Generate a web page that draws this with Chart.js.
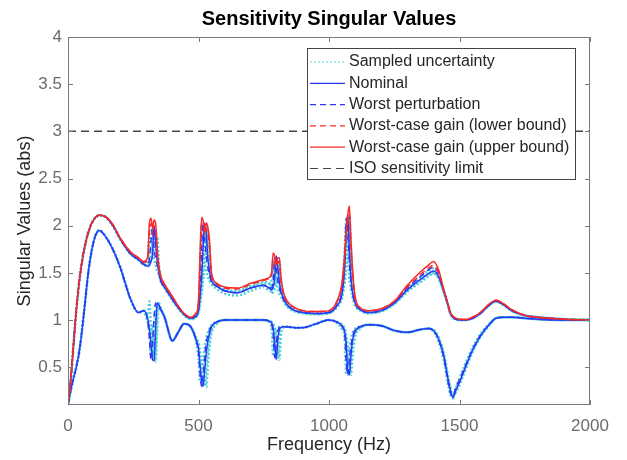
<!DOCTYPE html>
<html>
<head>
<meta charset="utf-8">
<script src="https://cdn.jsdelivr.net/npm/chart.js@4"></script>
<style>
  html, body { margin: 0; padding: 0; background: #fff; }
  #wrap { width: 627px; height: 460px; }
</style>
</head>
<body>
<div id="wrap"><canvas id="sigmaChart"></canvas></div>
<script>
// frequency grid (Hz), denser around the resonances
const freq = [
  0, 10, 20, 30, 45, 60, 80, 100, 120, 140,
  170, 200, 240, 270, 290, 305, 312, 318, 324, 330,
  336, 342, 348, 355, 370, 400, 420, 445, 470, 490,
  500, 506, 512, 518, 524, 530, 536, 542, 550, 570,
  600, 650, 700, 750, 770, 780, 786, 792, 798, 804,
  810, 816, 825, 840, 870, 900, 950, 1000, 1030, 1050,
  1060, 1066, 1072, 1078, 1084, 1090, 1100, 1120, 1150, 1200,
  1250, 1300, 1350, 1380, 1400, 1420, 1440, 1455, 1465, 1475,
  1485, 1500, 1520, 1550, 1580, 1610, 1640, 1670, 1700, 1750,
  1800, 1900, 2000
];

const upperBound = [
  0.10, 0.35, 0.70, 1.05, 1.45, 1.72, 1.95, 2.07, 2.11, 2.10,
  2.02, 1.87, 1.72, 1.66, 1.62, 1.66, 2.03, 2.08, 1.98, 2.06,
  2.02, 1.75, 1.58, 1.47, 1.38, 1.25, 1.16, 1.07, 1.03, 1.07,
  1.20, 1.70, 2.09, 2.05, 1.95, 2.03, 1.98, 1.85, 1.50, 1.39,
  1.35, 1.34, 1.39, 1.43, 1.45, 1.50, 1.71, 1.68, 1.60, 1.66,
  1.66, 1.45, 1.30, 1.20, 1.13, 1.10, 1.09, 1.10, 1.20, 1.40,
  1.70, 1.95, 2.12, 2.21, 1.85, 1.55, 1.25, 1.13, 1.10, 1.12,
  1.20, 1.37, 1.51, 1.58, 1.62, 1.53, 1.32, 1.18, 1.08, 1.04,
  1.02, 1.01, 1.005, 1.03, 1.08, 1.16, 1.21, 1.17, 1.11, 1.05,
  1.03, 1.01, 1.00
];

const lowerBound = [
  0.10, 0.35, 0.70, 1.05, 1.45, 1.72, 1.95, 2.07, 2.11, 2.10,
  2.02, 1.87, 1.72, 1.66, 1.61, 1.64, 1.95, 2.02, 1.90, 2.00,
  1.96, 1.70, 1.55, 1.46, 1.37, 1.25, 1.16, 1.07, 1.03, 1.07,
  1.18, 1.62, 2.02, 1.98, 1.90, 1.97, 1.92, 1.78, 1.47, 1.38,
  1.34, 1.33, 1.38, 1.42, 1.44, 1.48, 1.65, 1.63, 1.56, 1.62,
  1.60, 1.42, 1.28, 1.19, 1.13, 1.10, 1.09, 1.10, 1.19, 1.37,
  1.62, 1.88, 2.05, 2.12, 1.78, 1.50, 1.22, 1.13, 1.10, 1.12,
  1.20, 1.35, 1.48, 1.55, 1.58, 1.50, 1.31, 1.18, 1.08, 1.04,
  1.02, 1.01, 1.005, 1.03, 1.08, 1.16, 1.21, 1.17, 1.11, 1.05,
  1.03, 1.01, 1.00
];

const nominalHi = [
  0.10, 0.35, 0.70, 1.05, 1.45, 1.72, 1.95, 2.07, 2.11, 2.10,
  2.01, 1.86, 1.70, 1.64, 1.59, 1.57, 1.58, 1.62, 1.70, 2.00,
  1.80, 1.62, 1.52, 1.42, 1.35, 1.22, 1.14, 1.06, 1.02, 1.04,
  1.10, 1.25, 1.45, 1.80, 2.03, 1.90, 1.65, 1.52, 1.42, 1.36,
  1.31, 1.29, 1.34, 1.37, 1.34, 1.32, 1.35, 1.45, 1.68, 1.55,
  1.40, 1.30, 1.24, 1.16, 1.10, 1.08, 1.07, 1.08, 1.15, 1.28,
  1.55, 1.95, 2.12, 1.75, 1.45, 1.30, 1.18, 1.11, 1.08, 1.10,
  1.18, 1.32, 1.43, 1.49, 1.52, 1.46, 1.30, 1.17, 1.07, 1.03,
  1.01, 1.00, 1.00, 1.02, 1.07, 1.15, 1.20, 1.16, 1.10, 1.05,
  1.03, 1.01, 1.00
];

const nominalLo = [
  0.10, 0.25, 0.37, 0.48, 0.70, 1.05, 1.55, 1.85, 1.95, 1.90,
  1.76, 1.56, 1.22, 1.08, 1.10, 1.02, 0.90, 0.75, 0.58, 0.57,
  0.95, 1.18, 1.16, 1.12, 1.03, 0.78, 0.86, 0.96, 0.93, 0.80,
  0.70, 0.52, 0.36, 0.30, 0.48, 0.66, 0.78, 0.86, 0.93, 0.98,
  1.00, 1.00, 1.00, 1.00, 0.99, 0.97, 0.92, 0.75, 0.58, 0.80,
  0.90, 0.92, 0.93, 0.93, 0.92, 0.92, 0.96, 1.00, 0.98, 0.94,
  0.88, 0.75, 0.45, 0.42, 0.62, 0.78, 0.88, 0.93, 0.95, 0.94,
  0.89, 0.87, 0.90, 0.91, 0.89, 0.80, 0.62, 0.39, 0.26, 0.18,
  0.25, 0.34, 0.48, 0.68, 0.83, 0.94, 1.02, 1.03, 1.03, 1.02,
  1.01, 1.00, 1.00
];

const worstHi = [
  0.10, 0.35, 0.70, 1.05, 1.45, 1.72, 1.95, 2.07, 2.11, 2.10,
  2.01, 1.86, 1.70, 1.64, 1.59, 1.58, 1.65, 1.85, 1.98, 1.75,
  1.65, 1.58, 1.50, 1.42, 1.35, 1.22, 1.14, 1.06, 1.02, 1.04,
  1.12, 1.35, 1.75, 2.02, 1.85, 1.68, 1.55, 1.48, 1.40, 1.36,
  1.31, 1.29, 1.34, 1.37, 1.35, 1.34, 1.42, 1.65, 1.55, 1.42,
  1.34, 1.28, 1.22, 1.16, 1.10, 1.08, 1.07, 1.08, 1.16, 1.32,
  1.62, 2.08, 1.92, 1.62, 1.40, 1.28, 1.17, 1.11, 1.08, 1.10,
  1.19, 1.34, 1.46, 1.53, 1.56, 1.49, 1.31, 1.17, 1.07, 1.03,
  1.01, 1.00, 1.00, 1.02, 1.07, 1.15, 1.20, 1.16, 1.10, 1.05,
  1.03, 1.01, 1.00
];

const worstLo = [
  0.10, 0.25, 0.37, 0.48, 0.70, 1.05, 1.55, 1.85, 1.95, 1.90,
  1.76, 1.56, 1.22, 1.08, 1.10, 1.00, 0.80, 0.58, 0.75, 1.05,
  1.18, 1.15, 1.13, 1.11, 1.03, 0.78, 0.86, 0.96, 0.93, 0.79,
  0.65, 0.42, 0.30, 0.42, 0.62, 0.76, 0.84, 0.89, 0.94, 0.98,
  1.00, 1.00, 1.00, 1.00, 0.99, 0.96, 0.85, 0.60, 0.75, 0.88,
  0.92, 0.93, 0.93, 0.93, 0.92, 0.92, 0.96, 1.00, 0.98, 0.93,
  0.85, 0.55, 0.42, 0.58, 0.72, 0.82, 0.90, 0.93, 0.95, 0.94,
  0.89, 0.87, 0.90, 0.91, 0.89, 0.79, 0.60, 0.36, 0.23, 0.19,
  0.28, 0.37, 0.50, 0.69, 0.84, 0.94, 1.02, 1.03, 1.03, 1.02,
  1.01, 1.00, 1.00
];

// a few of the sampled uncertain models (upper / lower singular value)
const sampleHiA = [
  0.10, 0.35, 0.70, 1.05, 1.45, 1.72, 1.95, 2.07, 2.11, 2.10,
  2.01, 1.86, 1.70, 1.64, 1.59, 1.60, 1.90, 1.95, 1.72, 1.64,
  1.58, 1.52, 1.48, 1.41, 1.34, 1.21, 1.13, 1.05, 1.01, 1.03,
  1.15, 1.55, 2.00, 1.80, 1.62, 1.52, 1.46, 1.42, 1.38, 1.33,
  1.28, 1.26, 1.31, 1.35, 1.32, 1.42, 1.64, 1.50, 1.40, 1.33,
  1.28, 1.25, 1.20, 1.14, 1.09, 1.07, 1.06, 1.07, 1.17, 1.36,
  1.75, 2.05, 1.70, 1.45, 1.32, 1.24, 1.15, 1.10, 1.07, 1.09,
  1.17, 1.30, 1.40, 1.46, 1.49, 1.44, 1.29, 1.16, 1.07, 1.03,
  1.01, 1.00, 1.00, 1.02, 1.07, 1.15, 1.20, 1.16, 1.10, 1.05,
  1.03, 1.01, 1.00
];

const sampleHiB = [
  0.10, 0.35, 0.70, 1.05, 1.45, 1.72, 1.95, 2.07, 2.11, 2.10,
  2.01, 1.86, 1.70, 1.64, 1.59, 1.58, 1.62, 1.70, 1.85, 1.82,
  1.95, 1.70, 1.52, 1.43, 1.35, 1.22, 1.14, 1.06, 1.02, 1.04,
  1.09, 1.20, 1.35, 1.55, 1.80, 1.98, 1.75, 1.55, 1.40, 1.37,
  1.32, 1.30, 1.35, 1.39, 1.38, 1.30, 1.33, 1.38, 1.45, 1.62,
  1.50, 1.35, 1.24, 1.16, 1.10, 1.08, 1.07, 1.08, 1.14, 1.26,
  1.45, 1.70, 2.02, 2.00, 1.62, 1.38, 1.20, 1.12, 1.08, 1.10,
  1.18, 1.33, 1.45, 1.52, 1.55, 1.48, 1.31, 1.17, 1.07, 1.03,
  1.01, 1.00, 1.00, 1.02, 1.07, 1.15, 1.20, 1.16, 1.10, 1.05,
  1.03, 1.01, 1.00
];

const sampleHiC = [
  0.10, 0.35, 0.70, 1.05, 1.45, 1.72, 1.95, 2.07, 2.11, 2.10,
  2.01, 1.86, 1.70, 1.64, 1.59, 1.57, 1.60, 1.64, 1.68, 1.75,
  1.78, 1.88, 1.60, 1.45, 1.36, 1.23, 1.15, 1.06, 1.02, 1.04,
  1.08, 1.16, 1.28, 1.42, 1.58, 1.75, 1.95, 1.72, 1.45, 1.38,
  1.33, 1.31, 1.36, 1.40, 1.40, 1.28, 1.30, 1.33, 1.37, 1.45,
  1.62, 1.42, 1.27, 1.18, 1.11, 1.08, 1.07, 1.08, 1.13, 1.24,
  1.40, 1.55, 1.80, 2.10, 1.80, 1.48, 1.22, 1.12, 1.08, 1.10,
  1.17, 1.31, 1.42, 1.48, 1.50, 1.45, 1.30, 1.17, 1.07, 1.03,
  1.01, 1.00, 1.00, 1.02, 1.07, 1.15, 1.20, 1.16, 1.10, 1.05,
  1.03, 1.01, 1.00
];

const sampleLoA = [
  0.10, 0.25, 0.37, 0.48, 0.70, 1.05, 1.55, 1.85, 1.95, 1.90,
  1.76, 1.56, 1.22, 1.08, 1.10, 1.05, 1.20, 0.85, 0.60, 0.75,
  1.10, 1.16, 1.13, 1.11, 1.03, 0.78, 0.86, 0.96, 0.93, 0.78,
  0.60, 0.35, 0.40, 0.58, 0.72, 0.81, 0.87, 0.91, 0.95, 0.98,
  1.00, 1.00, 1.00, 1.00, 0.98, 0.92, 0.62, 0.80, 0.88, 0.91,
  0.93, 0.93, 0.93, 0.93, 0.92, 0.92, 0.96, 1.00, 0.97, 0.90,
  0.80, 0.43, 0.55, 0.70, 0.80, 0.86, 0.91, 0.93, 0.95, 0.94,
  0.89, 0.87, 0.90, 0.91, 0.88, 0.77, 0.57, 0.34, 0.21, 0.17,
  0.27, 0.38, 0.52, 0.71, 0.85, 0.95, 1.02, 1.03, 1.03, 1.02,
  1.01, 1.00, 1.00
];

const sampleLoB = [
  0.10, 0.25, 0.37, 0.48, 0.70, 1.05, 1.55, 1.85, 1.95, 1.90,
  1.76, 1.56, 1.22, 1.08, 1.10, 1.00, 0.85, 0.62, 0.95, 0.56,
  0.70, 1.12, 1.17, 1.12, 1.03, 0.78, 0.86, 0.96, 0.93, 0.81,
  0.74, 0.62, 0.48, 0.34, 0.30, 0.50, 0.68, 0.80, 0.90, 0.97,
  1.00, 1.00, 1.00, 1.00, 0.99, 0.98, 0.95, 0.88, 0.75, 0.60,
  0.82, 0.90, 0.93, 0.93, 0.92, 0.92, 0.96, 1.00, 0.98, 0.94,
  0.90, 0.80, 0.60, 0.44, 0.52, 0.72, 0.86, 0.92, 0.95, 0.94,
  0.89, 0.87, 0.90, 0.91, 0.90, 0.82, 0.65, 0.43, 0.29, 0.20,
  0.23, 0.31, 0.45, 0.66, 0.82, 0.93, 1.02, 1.03, 1.03, 1.02,
  1.01, 1.00, 1.00
];

const sampleLoC = [
  0.10, 0.25, 0.37, 0.48, 0.70, 1.05, 1.55, 1.85, 1.95, 1.90,
  1.76, 1.56, 1.22, 1.08, 1.10, 0.98, 0.95, 0.92, 0.80, 0.65,
  0.56, 0.90, 1.18, 1.13, 1.03, 0.78, 0.86, 0.96, 0.93, 0.82,
  0.76, 0.66, 0.55, 0.45, 0.36, 0.29, 0.52, 0.72, 0.86, 0.96,
  1.00, 1.00, 1.00, 1.00, 0.99, 0.98, 0.96, 0.92, 0.85, 0.72,
  0.58, 0.85, 0.92, 0.93, 0.92, 0.92, 0.96, 1.00, 0.98, 0.95,
  0.91, 0.84, 0.72, 0.55, 0.42, 0.60, 0.82, 0.91, 0.95, 0.94,
  0.89, 0.87, 0.90, 0.91, 0.89, 0.80, 0.61, 0.38, 0.24, 0.18,
  0.26, 0.35, 0.49, 0.68, 0.83, 0.94, 1.02, 1.03, 1.03, 1.02,
  1.01, 1.00, 1.00
];

const isoFreq = [0, 2000];
const isoLevel = [3, 3];

const xTicks = [0, 500, 1000, 1500, 2000];
const yTicks = [0.5, 1, 1.5, 2, 2.5, 3, 3.5, 4];

const FONT = 'Liberation Sans, Arial, Helvetica, sans-serif';
const axisGray = '#7a7a7a';
const cyan = 'rgb(80,210,210)';
const blue = 'rgb(45,55,250)';
const red = 'rgb(250,40,40)';
const isoGray = 'rgb(70,70,70)';

const pts = (ys, xs = freq) => xs.map((f, i) => ({ x: f, y: ys[i] }));

function line(label, data, color, dash, width, order) {
    return {
        label: label,
        data: data,
        borderColor: color,
        borderDash: dash,
        borderWidth: width,
        pointRadius: 0,
        fill: false,
        tension: 0,
        cubicInterpolationMode: 'monotone',
        order: order,
    };
}

const dot = [2, 2];
const dash = [6, 4];

const datasets = [
    line('Sampled uncertainty', pts(sampleHiA), cyan, dot, 2.5, 6),
    line('', pts(sampleHiB), cyan, dot, 2.5, 6),
    line('', pts(sampleHiC), cyan, dot, 2.5, 6),
    line('', pts(sampleLoA), cyan, dot, 2.5, 6),
    line('', pts(sampleLoB), cyan, dot, 2.5, 6),
    line('', pts(sampleLoC), cyan, dot, 2.5, 6),
    line('Nominal', pts(nominalHi), blue, [], 1.5, 5),
    line('', pts(nominalLo), blue, [], 1.5, 5),
    line('Worst perturbation', pts(worstHi), blue, dash, 1.5, 4),
    line('', pts(worstLo), blue, dash, 1.5, 4),
    line('Worst-case gain (lower bound)', pts(lowerBound), red, dash, 1.5, 3),
    line('Worst-case gain (upper bound)', pts(upperBound), red, [], 1.5, 2),
    line('ISO sensitivity limit', pts(isoLevel, isoFreq), isoGray, [8, 5], 1.5, 1),
];

// MATLAB-like box, inward ticks, titles and the legend inside the axes
const matlabAxes = {
    id: 'matlabAxes',
    afterDraw(chart) {
        const { ctx, chartArea: a, scales: { x, y } } = chart;
        ctx.save();

        ctx.strokeStyle = axisGray;
        ctx.lineWidth = 1;
        ctx.setLineDash([]);
        ctx.strokeRect(a.left + 0.5, a.top + 0.5, a.right - a.left - 1, a.bottom - a.top - 1);
        ctx.beginPath();
        xTicks.forEach(v => {
            const px = Math.round(x.getPixelForValue(v)) + 0.5;
            ctx.moveTo(px, a.bottom); ctx.lineTo(px, a.bottom - 5);
            ctx.moveTo(px, a.top); ctx.lineTo(px, a.top + 5);
        });
        yTicks.forEach(v => {
            const py = Math.round(y.getPixelForValue(v)) + 0.5;
            ctx.moveTo(a.left, py); ctx.lineTo(a.left + 5, py);
            ctx.moveTo(a.right, py); ctx.lineTo(a.right - 5, py);
        });
        ctx.stroke();

        const cx = (a.left + a.right) / 2;
        ctx.fillStyle = '#000';
        ctx.font = 'bold 20px ' + FONT;
        ctx.textAlign = 'center';
        ctx.textBaseline = 'alphabetic';
        ctx.fillText('Sensitivity Singular Values', cx, 25);

        ctx.fillStyle = '#262626';
        ctx.font = '18px ' + FONT;
        ctx.textBaseline = 'middle';
        ctx.fillText('Frequency (Hz)', cx, 445);
        ctx.save();
        ctx.translate(25, (a.top + a.bottom) / 2);
        ctx.rotate(-Math.PI / 2);
        ctx.fillText('Singular Values (abs)', 0, 0);
        ctx.restore();

        // legend
        const items = chart.data.datasets.filter(d => d.label);
        const bx = a.right - 283, by = a.top + 11, bw = 268, bh = 131;
        ctx.fillStyle = '#fff';
        ctx.fillRect(bx, by, bw, bh);
        ctx.strokeStyle = '#444';
        ctx.strokeRect(bx + 0.5, by + 0.5, bw, bh);
        ctx.font = '16px ' + FONT;
        ctx.textAlign = 'left';
        items.forEach((d, i) => {
            const ry = by + 14 + i * 21.3;
            ctx.beginPath();
            ctx.strokeStyle = d.borderColor;
            ctx.lineWidth = 1.2;
            ctx.setLineDash(d.borderDash);
            ctx.moveTo(bx + 3, ry);
            ctx.lineTo(bx + 38, ry);
            ctx.stroke();
            ctx.setLineDash([]);
            ctx.fillStyle = '#262626';
            ctx.fillText(d.label, bx + 42, ry);
        });
        ctx.restore();
    }
};

new Chart(document.getElementById('sigmaChart'), {
    type: 'line',
    data: { datasets: datasets },
    options: {
        responsive: true,
        maintainAspectRatio: false,
        animation: false,
        devicePixelRatio: 1,
        layout: { padding: { left: 0, right: 37, top: 37, bottom: 0 } },
        scales: {
            x: {
                type: 'linear',
                min: 0,
                max: 2000,
                afterBuildTicks: s => { s.ticks = xTicks.map(v => ({ value: v })); },
                afterFit: s => { s.height = 55; },
                grid: { display: false, drawTicks: false },
                border: { display: false },
                ticks: { color: '#6b6b6b', font: { size: 17, family: FONT }, padding: 11, maxRotation: 0, autoSkip: false,
                         callback: v => String(v) },
            },
            y: {
                type: 'linear',
                min: 0.1,
                max: 4,
                afterBuildTicks: s => { s.ticks = yTicks.map(v => ({ value: v })); },
                afterFit: s => { s.width = 68; },
                grid: { display: false, drawTicks: false },
                border: { display: false },
                ticks: { color: '#6b6b6b', font: { size: 17, family: FONT }, padding: 6, autoSkip: false,
                         callback: v => String(v) },
            }
        },
        plugins: {
            legend: { display: false },
            tooltip: { enabled: false }
        }
    },
    plugins: [matlabAxes]
});
</script>
</body>
</html>
